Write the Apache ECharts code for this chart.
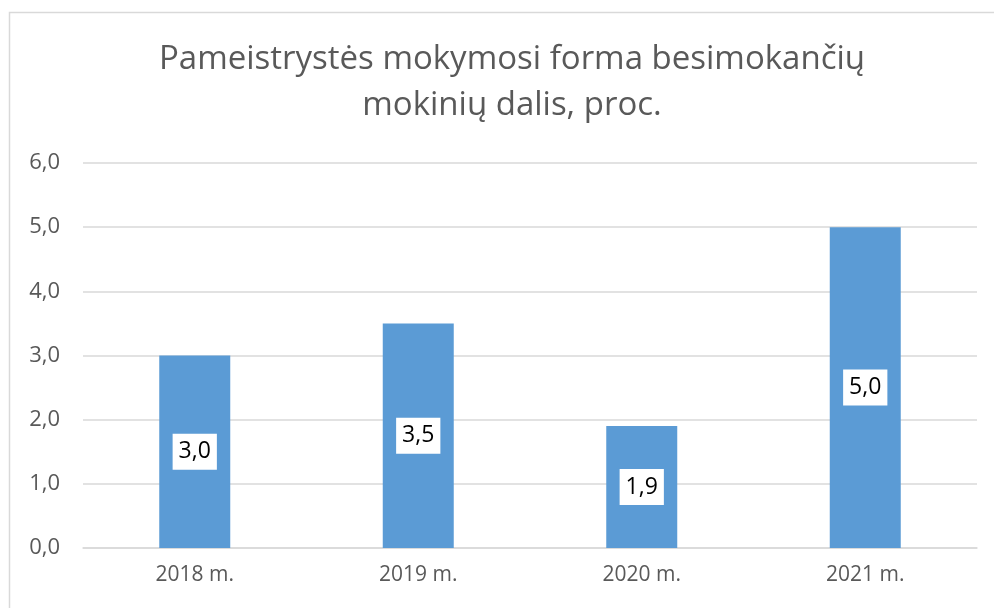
<!DOCTYPE html>
<html><head><meta charset="utf-8">
<script src="https://cdn.jsdelivr.net/npm/echarts@6/dist/echarts.min.js"></script>
<style>html,body{margin:0;padding:0;background:#fff}#c{width:994px;height:608px}</style>
</head><body><div id="c"></div>
<script>
const categories = ['2018 m.', '2019 m.', '2020 m.', '2021 m.'];
const values = [3.0, 3.5, 1.9, 5.0];
const titleText = 'Pameistrystės mokymosi forma besimokančių\nmokinių dalis, proc.';
const fmt = v => v.toFixed(1).replace('.', ',');
const chart = echarts.init(document.getElementById('c'));
chart.setOption({
  animation: false,
  graphic: [{type:'rect', shape:{x:9.5,y:12.5,width:1100,height:700}, style:{fill:'none', stroke:'#d9d9d9', lineWidth:1.5}}],
  title: {text: titleText, left: 507, textAlign: 'center', top: 32,
    textStyle: {fontFamily: 'Open Sans', fontSize: 33, fontWeight: 'normal', color: '#595959', lineHeight: 46}},
  grid: {left: 83, right: 17, top: 163, bottom: 60},
  xAxis: {type: 'category', data: categories,
    axisLine: {lineStyle: {color: '#d9d9d9', width: 1.5}}, axisTick: {show: false},
    axisLabel: {color: '#595959', fontSize: 21, fontFamily: 'Open Sans', margin: 17}},
  yAxis: {type: 'value', min: 0, max: 6, interval: 1,
    axisLine: {show: false}, axisTick: {show: false},
    splitLine: {lineStyle: {color: '#d9d9d9', width: 1.5}},
    axisLabel: {color: '#595959', fontSize: 22, fontFamily: 'Open Sans', margin: 23, formatter: v => fmt(v)}},
  series: [{type: 'bar', data: values, barWidth: 71,
    itemStyle: {color: '#5b9bd5'},
    label: {show: true, position: 'inside', formatter: p => fmt(p.value),
      backgroundColor: '#fff', padding: [6, 6, 5, 6], color: '#000', fontSize: 23, lineHeight: 25, fontFamily: 'Open Sans'}}]
});
</script></body></html>
